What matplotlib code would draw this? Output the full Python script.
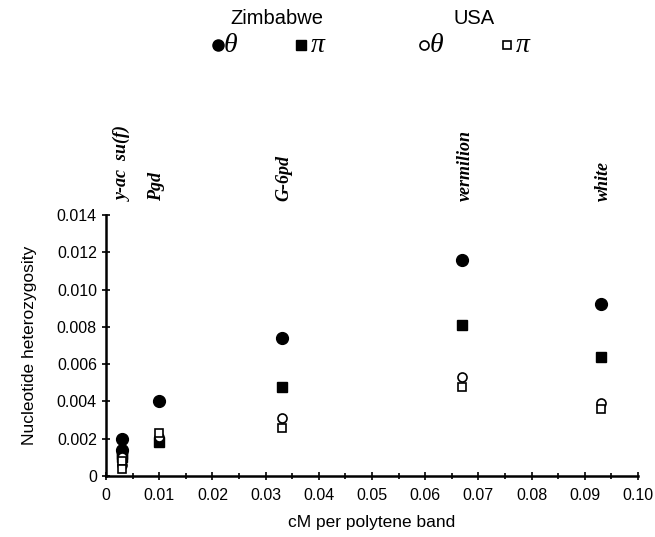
import matplotlib
matplotlib.use("Agg")
import matplotlib.pyplot as plt

# loci and their recombination rate (cM per polytene band)
loci_labels = ['y-ac  su(f)', 'Pgd', 'G-6pd', 'vermilion', 'white']
label_x = [0.0033, 0.0095, 0.0335, 0.0675, 0.0935]

cm_per_band = [0.003, 0.003, 0.010, 0.033, 0.067, 0.093]
zim_theta = [0.0020, 0.0014, 0.0040, 0.0074, 0.0116, 0.0092]
zim_pi = [0.0012, 0.0010, 0.0018, 0.0048, 0.0081, 0.0064]
usa_theta = [0.0010, 0.0006, 0.0021, 0.0031, 0.0053, 0.0039]
usa_pi = [0.0008, 0.0004, 0.0023, 0.0026, 0.0048, 0.0036]

yticks = [0, 0.002, 0.004, 0.006, 0.008, 0.010, 0.012, 0.014]
ytick_labels = ['0', '0.002', '0.004', '0.006', '0.008', '0.010', '0.012', '0.014']
xticks = [0, 0.01, 0.02, 0.03, 0.04, 0.05, 0.06, 0.07, 0.08, 0.09, 0.10]
xtick_labels = ['0', '0.01', '0.02', '0.03', '0.04', '0.05', '0.06', '0.07', '0.08', '0.09', '0.10']

plt.rcParams['font.family'] = ['Liberation Sans', 'DejaVu Sans']

fig = plt.figure(figsize=(6.55, 5.37), dpi=100)
ax = fig.add_axes([0.1618, 0.1136, 0.8122, 0.486])

ax.plot(cm_per_band, zim_theta, 'o', color='black', markersize=8.5, linestyle='none')
ax.plot(cm_per_band, zim_pi, 's', color='black', markersize=7, linestyle='none')
ax.plot(cm_per_band, usa_theta, 'o', mfc='white', mec='black', mew=1.2, markersize=6.5, linestyle='none')
ax.plot(cm_per_band, usa_pi, 's', mfc='white', mec='black', mew=1.2, markersize=6, linestyle='none')

ax.set_xlim(0, 0.10)
ax.set_ylim(0, 0.014)
ax.set_yticks(yticks)
ax.set_yticklabels(ytick_labels)
ax.set_xticks(xticks)
ax.set_xticklabels(xtick_labels)
ax.set_xticks([x + 0.005 for x in xticks[:-1]], minor=True)
ax.tick_params(axis='both', which='major', direction='inout', length=6, width=1.2, labelsize=11.5)
ax.tick_params(axis='x', which='minor', direction='inout', length=5, width=1.2)
ax.tick_params(axis='x', pad=6)

for side in ['top', 'right']:
    ax.spines[side].set_visible(False)
for side in ['left', 'bottom']:
    ax.spines[side].set_linewidth(1.8)

ax.set_xlabel('cM per polytene band', fontsize=12.5, labelpad=8)
ax.set_ylabel('Nucleotide heterozygosity', fontsize=12.5, labelpad=14)

# locus names above the axes
trans = ax.get_xaxis_transform()
for name, x in zip(loci_labels, label_x):
    ax.text(x, 1.055, name, transform=trans, rotation=90, ha='center', va='bottom',
            fontsize=13, fontweight='bold', fontstyle='italic',
            family=['Liberation Serif', 'DejaVu Serif'], clip_on=False)

# legend drawn by hand at the top
fig.text(277 / 655, 1 - 18 / 537, 'Zimbabwe', ha='center', va='center', fontsize=14.5)
fig.text(474 / 655, 1 - 18 / 537, 'USA', ha='center', va='center', fontsize=14.5)
ly = 1 - 45 / 537
serif = ['Liberation Serif', 'DejaVu Serif']
fig.add_artist(plt.Line2D([218 / 655], [ly], marker='o', color='black', markersize=8))
fig.text(224 / 655, ly, 'θ', ha='left', va='center', fontsize=20, fontstyle='italic', family=serif)
fig.add_artist(plt.Line2D([301 / 655], [ly], marker='s', color='black', markersize=7))
fig.text(311 / 655, ly, 'π', ha='left', va='center', fontsize=20, fontstyle='italic', family=serif)
fig.add_artist(plt.Line2D([424 / 655], [ly], marker='o', mfc='white', mec='black', mew=1.2, markersize=6.5))
fig.text(430 / 655, ly, 'θ', ha='left', va='center', fontsize=20, fontstyle='italic', family=serif)
fig.add_artist(plt.Line2D([507 / 655], [ly], marker='s', mfc='white', mec='black', mew=1.2, markersize=6))
fig.text(516 / 655, ly, 'π', ha='left', va='center', fontsize=20, fontstyle='italic', family=serif)

fig.savefig('out.png', dpi=100)
